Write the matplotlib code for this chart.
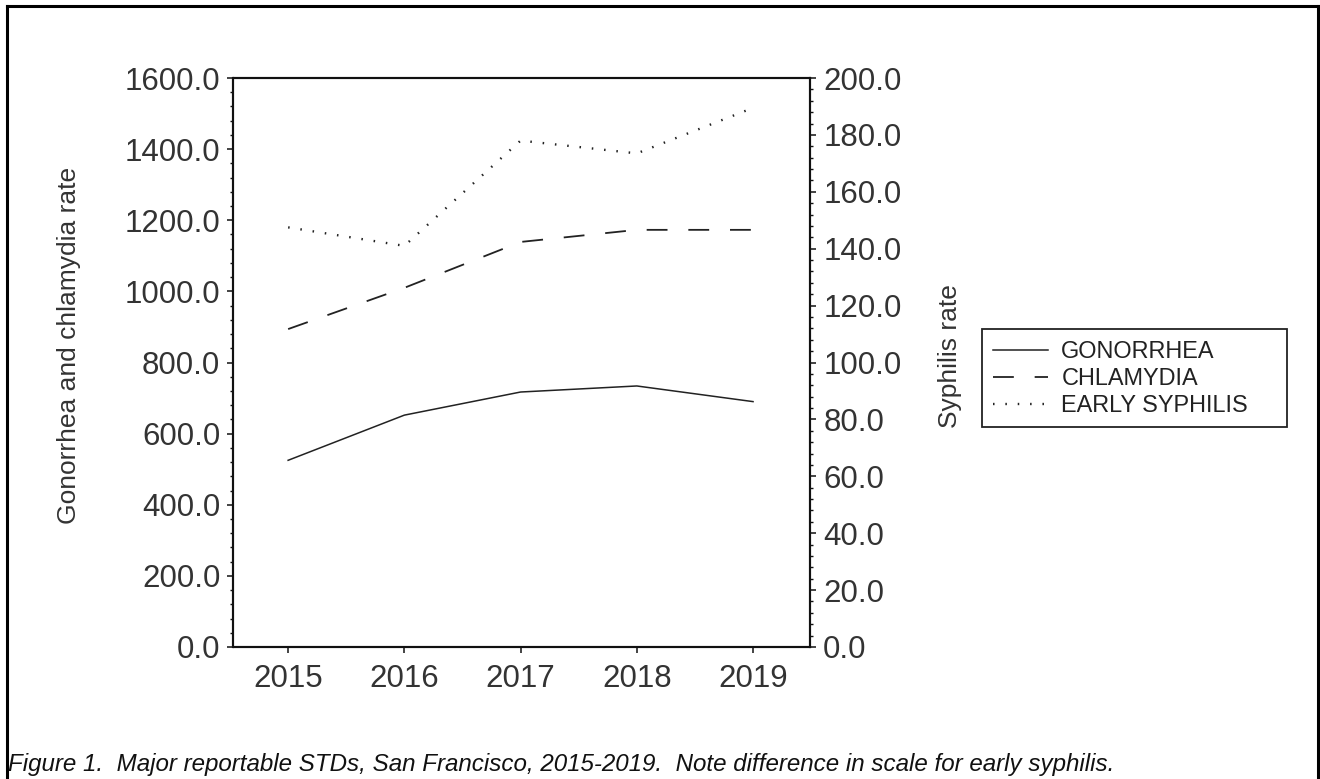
#!/usr/bin/env python3
"""
STD rates chart - San Francisco 2015-2019 (dual axis)
"""
import matplotlib
matplotlib.use('Agg')
import matplotlib.pyplot as plt
from matplotlib.ticker import MultipleLocator, FormatStrFormatter
from matplotlib.lines import Line2D
from matplotlib.patches import Rectangle

plt.rcParams['font.family'] = ['Liberation Sans', 'DejaVu Sans']
plt.rcParams['lines.scale_dashes'] = False

# data
years = [2015, 2016, 2017, 2018, 2019]
gonorrhea = [525, 652, 717, 734, 690]
chlamydia = [894, 1010, 1139, 1173, 1173]
early_syphilis = [147.5, 141.0, 178.0, 173.5, 189.5]

labels = ['GONORRHEA', 'CHLAMYDIA', 'EARLY SYPHILIS']
left_label = 'Gonorrhea and chlamydia rate'
right_label = 'Syphilis rate'
caption = ('Figure 1.  Major reportable STDs, San Francisco, 2015-2019.  '
           'Note difference in scale for early syphilis.')

W, H = 1320, 779
LINE_COLOR = '#222222'


def fx(px):
    return px / W


def fy(py):
    return 1 - py / H


def main():
    fig = plt.figure(figsize=(W / 100, H / 100), dpi=100)
    ax = fig.add_axes([fx(233.5), fy(647), fx(810) - fx(233.5), fy(78) - fy(647)])
    ax2 = ax.twinx()

    l1, = ax.plot(years, gonorrhea, color=LINE_COLOR, lw=1.1, linestyle='-')
    l2, = ax.plot(years, chlamydia, color=LINE_COLOR, lw=1.3,
                  linestyle=(0, (15, 15)))
    l3, = ax2.plot(years, early_syphilis, color=LINE_COLOR, lw=1.7,
                   linestyle=(0, (1.1, 7.8)))

    ax.set_xlim(2014.53, 2019.49)
    ax.set_ylim(0, 1600)
    ax2.set_ylim(0, 200)

    ax.set_xticks(years)
    ax.set_xticklabels([str(y) for y in years])
    ax.yaxis.set_major_locator(MultipleLocator(200))
    ax.yaxis.set_minor_locator(MultipleLocator(40))
    ax.yaxis.set_major_formatter(FormatStrFormatter('%.1f'))
    ax2.yaxis.set_major_locator(MultipleLocator(20))
    ax2.yaxis.set_minor_locator(MultipleLocator(4))
    ax2.yaxis.set_major_formatter(FormatStrFormatter('%.1f'))

    for a in (ax, ax2):
        for s in a.spines.values():
            s.set_linewidth(1.5)
            s.set_color('#111111')
        a.tick_params(which='major', length=4.5, width=1.1, labelsize=22.5,
                      colors='#111111', pad=5)
        a.tick_params(which='minor', length=2.2, width=1.0, colors='#111111')
    ax.tick_params(axis='x', pad=8)
    ax.tick_params(axis='y', labelcolor='#333333')
    ax2.tick_params(axis='y', labelcolor='#333333')
    ax.tick_params(axis='x', labelcolor='#333333')

    # axis titles
    fig.text(fx(69), fy(345), left_label, rotation=90, ha='center', va='center',
             fontsize=19, color='#333333')
    fig.text(fx(950), fy(356), right_label, rotation=90, ha='center', va='center',
             fontsize=19, color='#333333')

    # legend (frame drawn separately, it has extra room on the right)
    leg = fig.legend([l1, l2, l3], labels, loc='upper left',
                     bbox_to_anchor=(fx(982), fy(329)), borderaxespad=0,
                     fontsize=16.9, frameon=False, handlelength=2.35,
                     handletextpad=0.55, labelspacing=0.16, borderpad=0.48)
    for t in leg.get_texts():
        t.set_color('#222222')
    fig.add_artist(Rectangle((fx(982), fy(427)), fx(1287) - fx(982), fy(329) - fy(427),
                             transform=fig.transFigure, fill=False,
                             edgecolor='#222222', lw=1.3))

    # caption
    fig.text(fx(8), fy(765), caption, ha='left', va='center', fontsize=17.35,
             style='italic', color='#111111')

    # outer frame (open at the bottom)
    for xs, ys in [([7, 7], [6, 779]), ([7, 1318], [6, 6]), ([1318, 1318], [6, 779])]:
        fig.add_artist(Line2D([fx(x) for x in xs], [fy(y) for y in ys],
                              color='black', lw=2.2, transform=fig.transFigure))

    fig.savefig('out.png', dpi=100)
    plt.close(fig)


if __name__ == "__main__":
    main()
